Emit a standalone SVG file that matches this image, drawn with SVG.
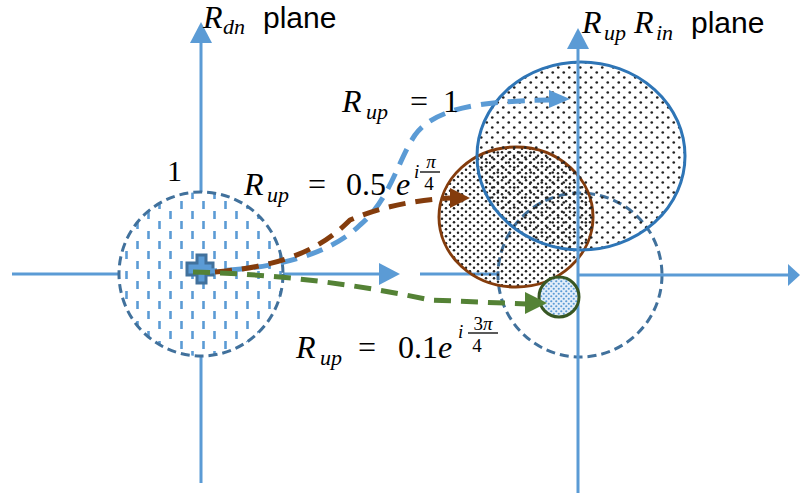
<svg xmlns="http://www.w3.org/2000/svg" width="800" height="497" viewBox="0 0 800 497">
<defs>
<pattern id="vdash" width="22" height="20" patternUnits="userSpaceOnUse" x="0" y="0">
<line x1="5.5" y1="1" x2="5.5" y2="9" stroke="#5B9BD5" stroke-width="2.6"/>
<line x1="16.5" y1="11" x2="16.5" y2="19" stroke="#5B9BD5" stroke-width="2.6"/>
</pattern>
<pattern id="dotsSparse" width="11" height="10" patternUnits="userSpaceOnUse">
<circle cx="2.75" cy="2.5" r="1.35" fill="#222"/>
<circle cx="8.25" cy="7.5" r="1.35" fill="#222"/>
</pattern>
<pattern id="dotsDense" width="8" height="7" patternUnits="userSpaceOnUse">
<circle cx="2" cy="1.75" r="1.25" fill="#222"/>
<circle cx="6" cy="5.25" r="1.25" fill="#222"/>
</pattern>
<pattern id="dotsBlue" width="5" height="5" patternUnits="userSpaceOnUse">
<rect width="5" height="5" fill="#E3EEF9"/>
<circle cx="1.25" cy="1.25" r="1.1" fill="#5B9BD5"/>
<circle cx="3.75" cy="3.75" r="1.1" fill="#5B9BD5"/>
</pattern>
</defs>
<style>
.axis{stroke:#5B9BD5;stroke-width:3;fill:none}
.axhead{fill:#5B9BD5}
.dcirc{stroke:#41719C;stroke-width:3;stroke-dasharray:9 5}
.m{font-family:"Liberation Serif",serif;font-style:italic;fill:#000}
.n{font-family:"Liberation Serif",serif;fill:#000}
.s{font-family:"Liberation Sans",sans-serif;fill:#000}
.dash{fill:none;stroke-width:5;stroke-dasharray:17 10}
</style>
<rect width="800" height="497" fill="#fff"/>

<g id="left-axes">
<line class="axis" x1="12" y1="274" x2="385" y2="274"/>
<polygon class="axhead" points="400,274 379,263 379,285"/>
<line class="axis" x1="201" y1="483" x2="201" y2="40"/>
<polygon class="axhead" points="201,22 190,43 212,43"/>
</g>

<g id="left-circle">
<circle cx="201" cy="274" r="82" fill="#fff"/>
<circle cx="201" cy="274" r="82" fill="url(#vdash)" class="dcirc"/>
</g>

<g id="right-axis-left-seg">
<line class="axis" x1="420" y1="274" x2="500" y2="274"/>
</g>

<g id="dashed-circle-right">
<circle cx="580" cy="275" r="82" fill="#fff" class="dcirc"/>
</g>

<g id="brown-circle">
<ellipse cx="516" cy="217" rx="77" ry="70" fill="url(#dotsDense)" stroke="#843C0C" stroke-width="3"/>
</g>

<g id="blue-ellipse">
<ellipse cx="581" cy="156" rx="104" ry="94" fill="url(#dotsSparse)" stroke="#2E75B6" stroke-width="3"/>
</g>

<g id="right-axes">
<line class="axis" x1="578" y1="493" x2="578" y2="46"/>
<polygon class="axhead" points="578,28 567,49 589,49"/>
<line class="axis" x1="578" y1="275" x2="790" y2="275"/>
<polygon class="axhead" points="800,275 788,264 788,286"/>
</g>

<g id="green-circle">
<circle cx="559" cy="297" r="20" fill="url(#dotsBlue)" stroke="#385723" stroke-width="3"/>
</g>

<g id="origin">
<path d="M197,255 H206 V263 H213 V275 H206 V283 H197 V275 H187 V263 H197 Z" fill="#5B9BD5" stroke="#41719C" stroke-width="3"/>
</g>

<g id="connectors">
<path class="dash" stroke="#5B9BD5" d="M200,271 C270,271 330,255 360,225 C390,200 398,160 415,135 C435,108 480,101 550,100"/>
<polygon fill="#5B9BD5" points="570,99 549,90 549,108"/>
<path class="dash" stroke="#843C0C" d="M215,272 C290,266 325,245 350,220 C380,207 415,200 450,198"/>
<polygon fill="#843C0C" points="470,198 450,188 450,208"/>
<path class="dash" stroke="#548235" d="M193,272 C280,274 360,285 430,300 L527,304"/>
<polygon fill="#548235" points="547,303 525,292 525,314"/>
</g>

<g id="labels">
<text class="m" x="203" y="28" font-size="32">R</text>
<text class="m" x="223" y="34" font-size="22">dn</text>
<text class="s" x="263" y="28" font-size="30">plane</text>

<text class="m" x="582" y="33" font-size="32">R</text>
<text class="m" x="604" y="40" font-size="22">up</text>
<text class="m" x="634" y="33" font-size="32">R</text>
<text class="m" x="656" y="40" font-size="22">in</text>
<text class="s" x="691" y="33" font-size="30">plane</text>

<text class="n" x="167" y="181" font-size="30">1</text>

<text class="m" x="342" y="112" font-size="32">R</text>
<text class="m" x="366" y="119" font-size="22">up</text>
<text class="n" x="410" y="112" font-size="32">=</text>
<text class="n" x="443" y="112" font-size="32">1</text>

<text class="m" x="244" y="195" font-size="32">R</text>
<text class="m" x="267" y="202" font-size="22">up</text>
<text class="n" x="308" y="195" font-size="32">=</text>
<text class="n" x="346" y="195" font-size="32">0.5</text>
<text class="m" x="396" y="195" font-size="32">e</text>
<text class="m" x="414" y="178" font-size="19">i</text>
<text class="m" x="431" y="168" font-size="19" text-anchor="middle">π</text>
<line x1="420" y1="172" x2="440" y2="172" stroke="#000" stroke-width="1.3"/>
<text class="n" x="429" y="190" font-size="19" text-anchor="middle">4</text>

<text class="m" x="296" y="358" font-size="32">R</text>
<text class="m" x="320" y="365" font-size="22">up</text>
<text class="n" x="358" y="358" font-size="32">=</text>
<text class="n" x="398" y="358" font-size="32">0.1</text>
<text class="m" x="438" y="358" font-size="32">e</text>
<text class="m" x="458" y="338" font-size="19">i</text>
<text class="n" x="483" y="330" font-size="19" text-anchor="middle">3<tspan font-style="italic">π</tspan></text>
<line x1="468" y1="333" x2="498" y2="333" stroke="#000" stroke-width="1.3"/>
<text class="n" x="477" y="352" font-size="19" text-anchor="middle">4</text>
</g>
</svg>
